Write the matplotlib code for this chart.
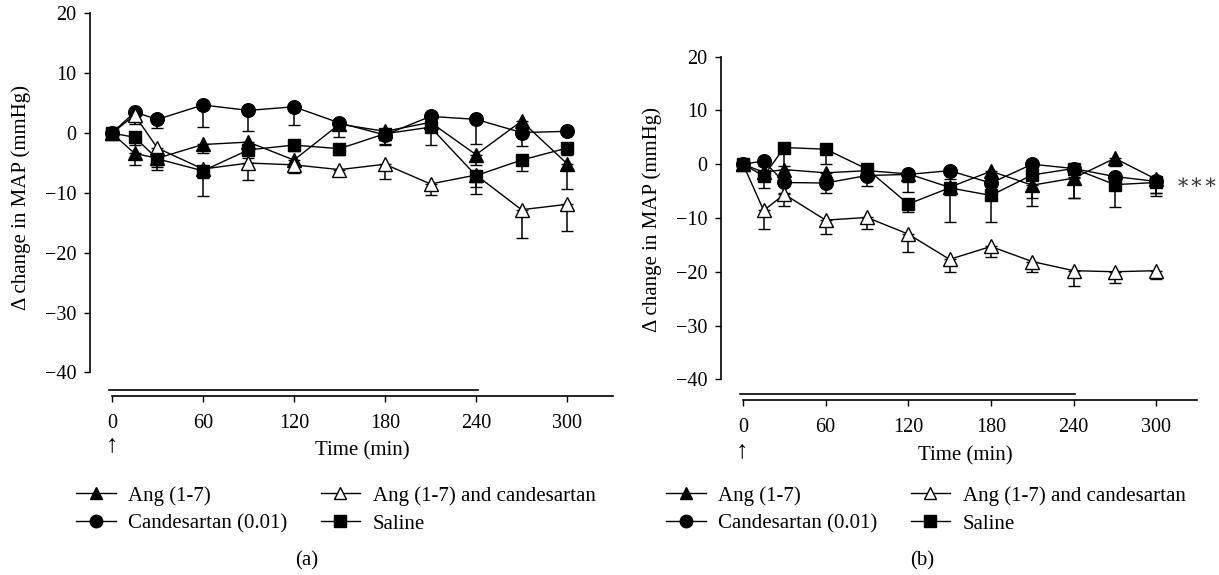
import matplotlib
matplotlib.use("Agg")
import matplotlib.pyplot as plt
from matplotlib.lines import Line2D
import numpy as np

plt.rcParams['font.family'] = ['Liberation Serif', 'DejaVu Serif']
plt.rcParams['axes.unicode_minus'] = True

# time points (min)
time = [0, 15, 30, 60, 90, 120, 150, 180, 210, 240, 270, 300]

# panel (a)
ang_a = [0, -3.4, -4.2, -1.9, -1.5, -4.5, 1.5, 0.3, 1.8, -3.6, 2.0, -5.1]
ang_a_err = [0, 1.9, 1.5, 1.5, 1.5, 1.0, 1.0, 1.5, 1.2, 1.7, 1.5, 4.3]
cand_a = [0, 3.5, 2.3, 4.7, 3.8, 4.4, 1.7, -0.3, 2.8, 2.3, 0.1, 0.3]
cand_a_err = [0, 1.5, 1.5, 3.6, 3.5, 3.1, 2.4, 1.5, 1.5, 4.2, 2.2, 0.5]
angcand_a = [0, 3.0, -2.5, -6.0, -5.0, -5.3, -6.1, -5.2, -8.5, -7.0, -12.8, -11.9]
angcand_a_err = [0, 1.5, 1.5, 1.5, 2.8, 1.3, 0.9, 2.5, 1.8, 2.0, 4.8, 4.5]
saline_a = [0, -0.7, -4.3, -6.3, -2.8, -2.0, -2.6, -0.1, 1.0, -7.1, -4.5, -2.5]
saline_a_err = [0, 1.3, 1.9, 4.2, 1.3, 1.0, 1.0, 1.9, 3.0, 3.0, 1.8, 1.2]

# panel (b)
ang_b = [0, -1.5, -1.0, -1.6, -1.2, -1.8, -4.3, -1.3, -3.9, -2.6, 1.1, -2.8]
ang_b_err = [0, 1.5, 1.0, 1.5, 1.5, 1.5, 1.5, 1.5, 3.8, 3.6, 1.5, 2.6]
cand_b = [0, 0.6, -3.4, -3.5, -2.1, -1.9, -1.2, -3.5, 0.0, -0.8, -2.3, -3.2]
cand_b_err = [0, 1.0, 2.0, 1.9, 2.0, 3.2, 1.5, 1.5, 1.5, 1.5, 1.5, 2.2]
angcand_b = [0, -8.6, -5.6, -10.4, -9.9, -13.0, -17.7, -15.3, -18.1, -19.8, -20.0, -19.8]
angcand_b_err = [0, 3.5, 2.1, 2.6, 2.2, 3.4, 2.4, 2.0, 1.9, 2.8, 2.0, 1.6]
saline_b = [0, -2.2, 3.1, 2.8, -0.9, -7.4, -4.4, -5.8, -2.0, -0.8, -3.8, -3.4]
saline_b_err = [0, 2.3, 3.4, 2.8, 1.2, 1.5, 6.3, 4.9, 4.2, 5.4, 4.1, 2.6]

labels = ['Ang (1-7)', 'Candesartan (0.01)', 'Ang (1-7) and candesartan', 'Saline']
markers = ['^', 'o', '^', 's']
facecolors = ['black', 'black', 'white', 'black']
msizes = [10, 9.8, 10, 8.8]

W, H = 1219, 575
fig = plt.figure(figsize=(W / 100, H / 100), dpi=100)

panels = [
    dict(rect=[0.0719, 0.3002, 0.4331, 0.6868], xlim=(-16, 332), spine_x=-14.5,
         axis_y=-43.9, bar_y=-43.0,
         series=[(ang_a, ang_a_err), (cand_a, cand_a_err), (angcand_a, angcand_a_err), (saline_a, saline_a_err)],
         ylab=(21, 197), xlab=(362, 451), arrow=(112, 445), tag=(307, 561), leg=(76, 486)),
    dict(rect=[0.5892, 0.2936, 0.3954, 0.6172], xlim=(-18, 332), spine_x=-16,
         axis_y=-43.85, bar_y=-42.7,
         series=[(ang_b, ang_b_err), (cand_b, cand_b_err), (angcand_b, angcand_b_err), (saline_b, saline_b_err)],
         ylab=(652, 220), xlab=(965, 456), arrow=(742, 451), tag=(922, 561), leg=(666, 486)),
]

for i, p in enumerate(panels):
    ax = fig.add_axes(p['rect'])
    ax.set_xlim(*p['xlim'])
    ax.set_ylim(-45, 21)

    for (vals, errs), m, fc, ms in zip(p['series'], markers, facecolors, msizes):
        errs = np.array(errs)
        ax.errorbar(time, vals, yerr=[errs, np.zeros_like(errs)], fmt='-', color='black',
                    marker=m, mfc=fc, mec='black', ms=ms, mew=1.0, lw=1.0,
                    elinewidth=1.1, capsize=4.5, capthick=1.1, clip_on=False)

    # treatment bar 0-240 min
    ax.plot([-2, 241], [p['bar_y'], p['bar_y']], color='black', lw=1.2, clip_on=False)

    for s in ['top', 'right']:
        ax.spines[s].set_visible(False)
    ax.spines['left'].set_position(('data', p['spine_x']))
    ax.spines['left'].set_bounds(-40, 20)
    ax.spines['bottom'].set_position(('data', p['axis_y']))
    ax.spines['bottom'].set_bounds(0, 330)
    for s in ['left', 'bottom']:
        ax.spines[s].set_linewidth(1.2)

    ax.set_xticks([0, 60, 120, 180, 240, 300])
    ax.set_yticks([-40, -30, -20, -10, 0, 10, 20])
    ax.tick_params(axis='x', direction='out', length=4, width=1.0, pad=9, labelsize=14.5)
    ax.tick_params(axis='y', direction='out', length=4, width=1.0, pad=6, labelsize=14.5)

    fig.text(p['ylab'][0] / W, 1 - p['ylab'][1] / H, 'Δ change in MAP (mmHg)',
             rotation=90, ha='center', va='center', fontsize=15)
    fig.text(p['xlab'][0] / W, 1 - p['xlab'][1] / H, 'Time (min)',
             ha='center', va='center', fontsize=15)
    fig.text(p['arrow'][0] / W, 1 - p['arrow'][1] / H, '↑',
             ha='center', va='center', fontsize=18)
    fig.text(p['tag'][0] / W, 1 - p['tag'][1] / H, '(a)' if i == 0 else '(b)',
             ha='center', va='center', fontsize=15)

    handles = [Line2D([], [], color='black', lw=1.0, marker=m, mfc=fc, mec='black', ms=9)
               for m, fc in zip(markers, facecolors)]
    ax.legend(handles, labels, ncol=2, loc='upper left',
              bbox_to_anchor=(p['leg'][0] / W, 1 - p['leg'][1] / H),
              bbox_transform=fig.transFigure, frameon=False, fontsize=15,
              handlelength=1.9, handletextpad=0.6, columnspacing=1.6,
              labelspacing=0.4, borderpad=0, borderaxespad=0)

    if i == 1:
        fig.text(1197 / W, 1 - 184 / H, '∗∗∗', ha='center', va='center',
                 fontsize=15, color='#333333')

fig.savefig('out.png', dpi=100)
